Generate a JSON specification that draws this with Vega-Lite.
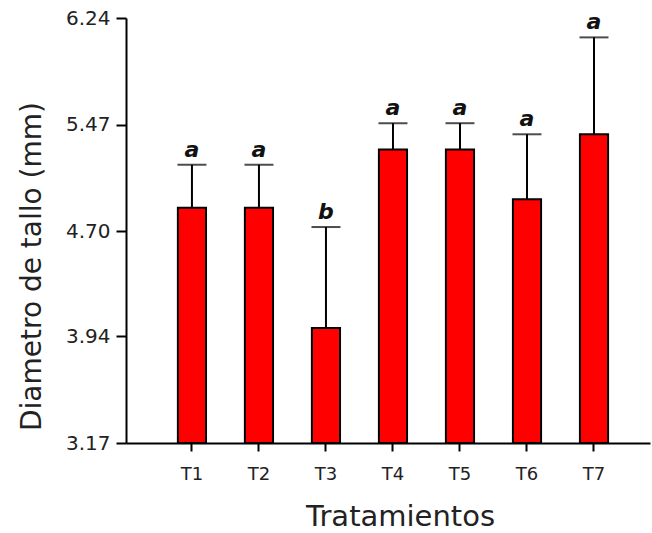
{
  "$schema": "https://vega.github.io/schema/vega-lite/v6.json",
  "autosize": "none",
  "width": 524,
  "height": 425,
  "padding": {"left": 126, "top": 18, "right": 2, "bottom": 90},
  "background": "white",
  "config": {
    "view": {"stroke": null},
    "font": "DejaVu Sans",
    "axis": {"grid": false, "domainColor": "black", "domainWidth": 2, "tickColor": "black", "tickWidth": 2, "labelColor": "#222", "titleColor": "#222", "labelFont": "DejaVu Sans", "titleFont": "DejaVu Sans", "titleFontWeight": "normal", "zindex": 1},
    "axisX": {"labelAngle": 0, "labelFontSize": 18, "tickSize": 8, "labelPadding": 14, "titleFontSize": 29, "titleX": 274, "titleY": 82, "titleBaseline": "alphabetic", "titleAlign": "center"},
    "axisY": {"labelFontSize": 20, "tickSize": 10, "labelPadding": 6, "titleFontSize": 28, "titleX": -86, "titleY": 248, "titleAngle": 270, "titleBaseline": "alphabetic", "titleAlign": "center"}
  },
  "data": {
    "values": [
      {"trat": "T1", "media": 4.87, "sup": 5.18, "letra": "a"},
      {"trat": "T2", "media": 4.87, "sup": 5.18, "letra": "a"},
      {"trat": "T3", "media": 4.00, "sup": 4.73, "letra": "b"},
      {"trat": "T4", "media": 5.29, "sup": 5.48, "letra": "a"},
      {"trat": "T5", "media": 5.29, "sup": 5.48, "letra": "a"},
      {"trat": "T6", "media": 4.93, "sup": 5.40, "letra": "a"},
      {"trat": "T7", "media": 5.40, "sup": 6.10, "letra": "a"}
    ]
  },
  "encoding": {
    "x": {
      "field": "trat", "type": "nominal", "sort": null, "title": "Tratamientos",
      "scale": {"paddingInner": 0.58, "paddingOuter": 0.7, "align": 0.553}
    }
  },
  "layer": [
    {
      "mark": {"type": "bar", "color": "#FF0000", "stroke": "black", "strokeWidth": 2},
      "encoding": {
        "y": {
          "field": "media", "type": "quantitative", "title": "Diametro de tallo (mm)",
          "scale": {"domain": [3.17, 6.24], "zero": false, "nice": false},
          "axis": {"values": [3.17, 3.94, 4.70, 5.47, 6.24], "format": ".2f"}
        },
        "y2": {"datum": 3.17}
      }
    },
    {
      "mark": {"type": "rule", "color": "black", "strokeWidth": 2},
      "encoding": {"y": {"field": "media", "type": "quantitative", "title": "Diametro de tallo (mm)"}, "y2": {"field": "sup"}}
    },
    {
      "mark": {"type": "tick", "color": "black", "thickness": 2, "size": 29, "orient": "horizontal"},
      "encoding": {"y": {"field": "sup", "type": "quantitative", "title": "Diametro de tallo (mm)"}}
    },
    {
      "mark": {"type": "text", "fontStyle": "italic", "fontWeight": "bold", "fontSize": 22, "dy": -8, "baseline": "alphabetic", "color": "#111"},
      "encoding": {"y": {"field": "sup", "type": "quantitative", "title": "Diametro de tallo (mm)"}, "text": {"field": "letra"}}
    }
  ]
}
